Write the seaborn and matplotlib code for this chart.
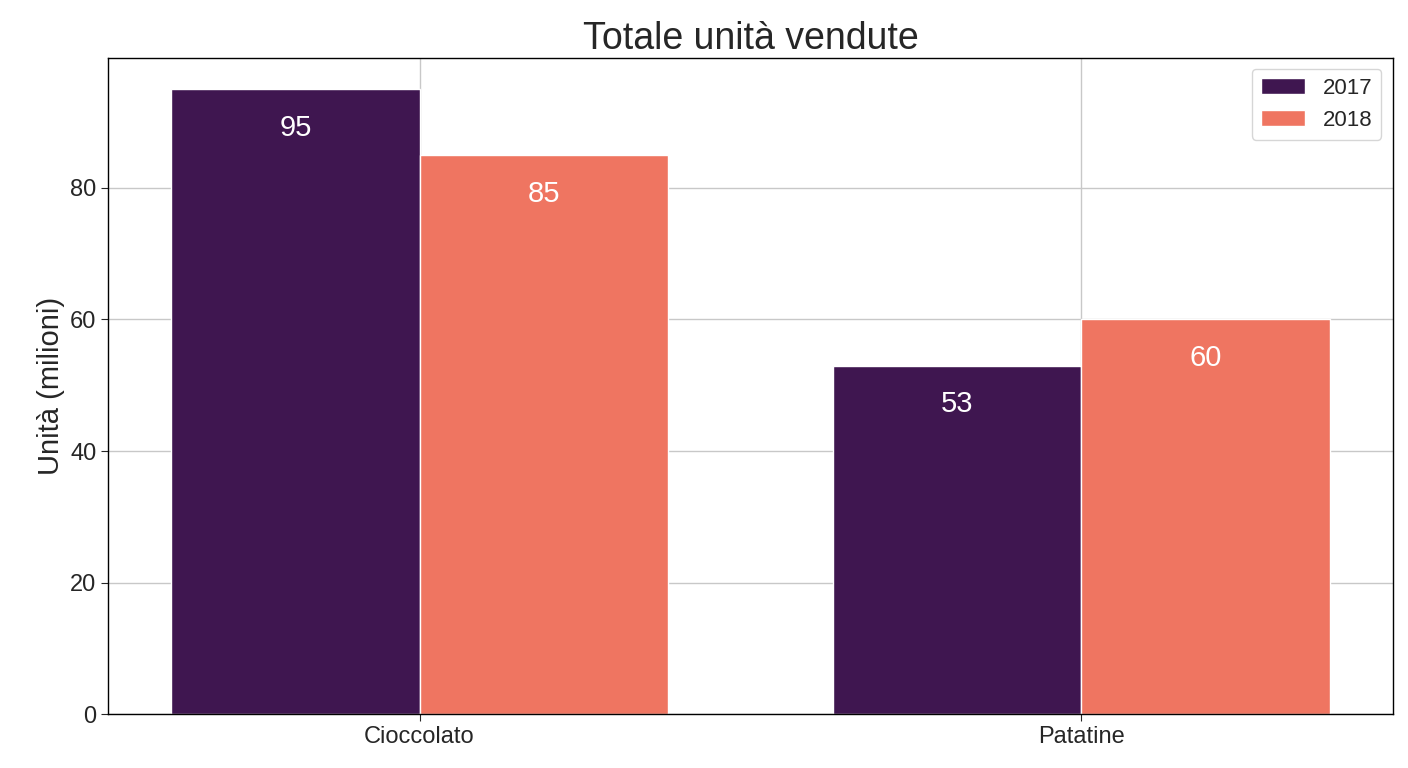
import pandas as pd
import matplotlib.pyplot as plt
import seaborn as sns

categories = ['Cioccolato', 'Patatine']
years = ['2017', '2018']
units_2017 = [95, 53]
units_2018 = [85, 60]

df = pd.DataFrame({
    'Prodotto': categories * 2,
    'Anno': [years[0]] * 2 + [years[1]] * 2,
    'Unita': units_2017 + units_2018,
})

sns.set_style('whitegrid')
plt.rcParams['font.family'] = ['Liberation Sans', 'DejaVu Sans']

fig, ax = plt.subplots(figsize=(14.08, 7.68), dpi=100)
sns.barplot(data=df, x='Prodotto', y='Unita', hue='Anno',
            palette=['#3f1650', '#ef7561'], width=0.75, saturation=1, ax=ax)

for container in ax.containers:
    ax.bar_label(container, fmt='%d', label_type='edge', padding=-38,
                 color='white', fontsize=21)

ax.set_xlim(-0.47, 1.47)
ax.set_ylim(0, 99.8)
ax.set_yticks([0, 20, 40, 60, 80])
ax.set_title('Totale unità vendute', fontsize=27)
ax.set_xlabel('')
ax.set_ylabel('Unità (milioni)', fontsize=21)
ax.tick_params(labelsize=17, length=5, left=True, bottom=True)
ax.grid(True, color='#c8c8c8', linewidth=1)
for s in ax.spines.values():
    s.set_color('black')
    s.set_linewidth(1)
ax.legend(fontsize=16, loc='upper right')

fig.subplots_adjust(left=0.077, right=0.989, top=0.925, bottom=0.07)
fig.savefig('out.png', dpi=100)
